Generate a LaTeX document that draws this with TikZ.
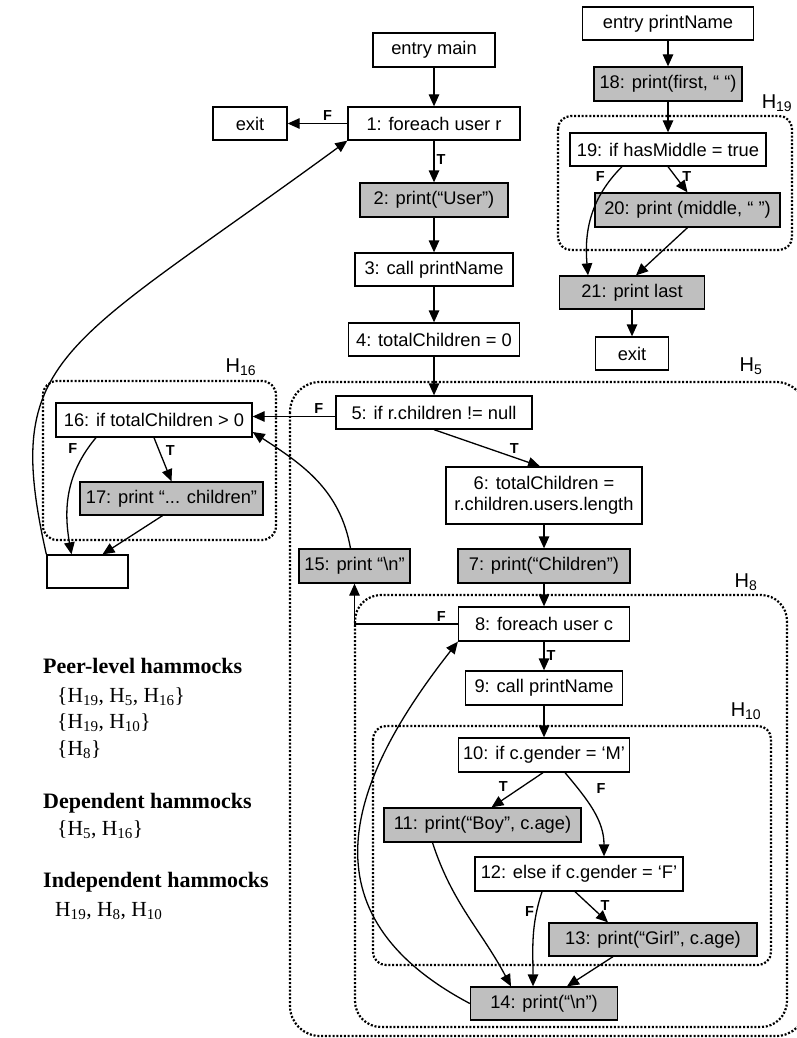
\documentclass[tikz,border=0pt]{standalone}
\usepackage{fontspec}
\setmainfont{Liberation Serif}
\setsansfont{Liberation Sans}
\usetikzlibrary{arrows.meta}

\begin{document}
\begin{tikzpicture}[x=1pt,y=1pt,>={Triangle[length=12pt,width=10.5pt]},
    every node/.style={font=\sffamily\fontsize{18.3}{20.5}\selectfont},
    stmt/.style={draw,line width=1.3pt,minimum height=33,inner sep=0pt,fill=white},
    shaded/.style={stmt,fill=black!25},
    flow/.style={->,line width=1.3pt},
    lbl/.style={font=\sffamily\bfseries\fontsize{14.5}{16}\selectfont,inner sep=2pt},
    hammock/.style={line width=2.2pt,dash pattern=on 2pt off 1.8pt},
    hlabel/.style={font=\sffamily\fontsize{20}{22}\selectfont,inner sep=0pt},
    legend/.style={font=\rmfamily\fontsize{21.5}{24}\selectfont,anchor=base west,inner sep=0pt},
    legendhead/.style={legend,font=\rmfamily\bfseries\fontsize{22}{24}\selectfont}]

    \useasboundingbox (0,0) rectangle (796,-1038);

    % hammocks
    \draw[hammock,rounded corners=13] (558,-116) rectangle (792,-250);
    \draw[hammock,rounded corners=14] (43,-381) rectangle (276,-540);
    \draw[hammock,rounded corners=30] (290,-382) rectangle (806,-1036);
    \draw[hammock,rounded corners=26] (355,-595) rectangle (787,-1027);
    \draw[hammock,rounded corners=13] (373,-726) rectangle (771,-965);

    \node[hlabel] (LH19) at (777,-103) {H\textsubscript{19}};
    \node[hlabel] (LH16) at (241,-367) {H\textsubscript{16}};
    \node[hlabel] (LH5) at (751,-366) {H\textsubscript{5}};
    \node[hlabel] (LH8) at (746,-582) {H\textsubscript{8}};
    \node[hlabel] (LH10) at (746,-711) {H\textsubscript{10}};

    % main
    \node[stmt,minimum width=122,minimum height=34] (ENTRY) at (434,-50) {entry main};
    \node[stmt,minimum width=172] (N1) at (434,-123.5) {1: foreach user r};
    \node[stmt,minimum width=74] (EXITM) at (250,-123.5) {exit};
    \node[shaded,minimum width=148,minimum height=34] (N2) at (434,-200) {2: print(“User”)};
    \node[stmt,minimum width=158] (N3) at (434,-269.5) {3: call printName};
    \node[stmt,minimum width=171] (N4) at (434,-339.5) {4: totalChildren = 0};
    \node[stmt,minimum width=196] (N5) at (434,-412.5) {5: if r.children != null};
    \node[stmt,minimum width=196,minimum height=57,align=center] (N6) at (544,-495.5) {6: totalChildren =\\r.children.users.length};
    \node[shaded,minimum width=172,minimum height=34] (N7) at (544,-566) {7: print(“Children”)};
    \node[shaded,minimum width=111,minimum height=34] (N15) at (354.5,-566) {15: print “\textbackslash n”};
    \node[stmt,minimum width=171,minimum height=34] (N8) at (544,-624) {8: foreach user c};
    \node[stmt,minimum width=157,minimum height=34] (N9) at (544,-688) {9: call printName};
    \node[stmt,minimum width=171,minimum height=34] (N10) at (544,-755) {10: if c.gender = ‘M’};
    \node[shaded,minimum width=197,minimum height=34] (N11) at (482.5,-825) {11: print(“Boy”, c.age)};
    \node[stmt,minimum width=208,minimum height=34] (N12) at (579,-874) {12: else if c.gender = ‘F’};
    \node[shaded,minimum width=208] (N13) at (653,-939.5) {13: print(“Girl”, c.age)};
    \node[shaded,minimum width=147] (N14) at (544,-1003.5) {14: print(“\textbackslash n”)};

    \node[stmt,minimum width=196,minimum height=34] (N16) at (154,-420) {16: if totalChildren > 0};
    \node[shaded,minimum width=183] (N17) at (171.5,-498.5) {17: print “... children”};
    \node[stmt,minimum width=81] (JOIN) at (87.5,-571.5) {};

    % printName
    \node[stmt,minimum width=171] (ENTRYPN) at (668,-23.5) {entry printName};
    \node[shaded,minimum width=148,minimum height=34] (N18) at (668,-84) {18: print(first, “ “)};
    \node[stmt,minimum width=196] (N19) at (668,-149.5) {19: if hasMiddle = true};
    \node[shaded,minimum width=185,minimum height=34] (N20) at (687.5,-210) {20: print (middle, “ ”)};
    \node[shaded,minimum width=145] (N21) at (632,-292.5) {21: print last};
    \node[stmt,minimum width=73] (EXITPN) at (632,-353.5) {exit};

    \foreach \a/\b in {ENTRY/N1,N2/N3,N3/N4,N4/N5,N6/N7,N7/N8,N9/N10,ENTRYPN/N18,N18/N19,N21/EXITPN}
      \draw[flow] (\a) -- (\b);

    \draw[flow] (N1) -- node[lbl,above,pos=.33]{F} (EXITM);
    \draw[flow] (N1) -- node[lbl,right,pos=.45]{T} (N2);
    \coordinate (FN5) at ([yshift=-4pt]N5.west);
    \draw[flow] (FN5) -- node[lbl,above,pos=.2]{F} (FN5 -| N16.east);
    \draw[flow] (N5.south) -- node[lbl,above right,pos=.7,inner sep=1pt]{T} ([xshift=-4pt]N6.north);
    \draw[flow] (N8.west) -| node[lbl,above,pos=.08]{F} (N15.south);
    \draw[flow] (N8) -- node[lbl,right]{T} (N9);
    \draw[flow] ([xshift=-1pt]N10.south) -- node[lbl,left=12pt,pos=.4]{T} ([xshift=9pt]N11.north);
    \draw[flow] ([xshift=21pt]N10.south) to[out=-50,in=90] node[lbl,right=16pt,pos=.2]{F} ([xshift=25pt]N12.north);
    \draw[flow] ([xshift=-50pt]N11.south) to[out=-72,in=118] ([xshift=-33pt]N14.north);
    \draw[flow] ([xshift=-37pt]N12.south) to[out=-108,in=90] node[lbl,left,pos=.2]{F} ([xshift=-11pt]N14.north);
    \draw[flow] ([xshift=-4pt]N12.south) -- node[lbl,right=8pt,pos=.45]{T} ([xshift=-45pt]N13.north);
    \draw[flow] ([xshift=-40pt]N13.south) -- ([xshift=23pt]N14.north);
    \draw[flow] (N14.west) .. controls +(-170,90) and +(-110,-140) .. (N8.south west);
    \draw[flow] ([xshift=-4pt]N15.north) to[out=100,in=-33] ([yshift=-12pt]N16.east);

    \draw[flow] ([xshift=-58pt]N16.south) to[out=-130,in=100] node[lbl,left=8pt,pos=.1]{F} ([xshift=-16pt]JOIN.north);
    \draw[flow] (N16.south) -- node[lbl,right=4pt,pos=.3]{T} (N17.north);
    \draw[flow] ([xshift=-9pt]N17.south) -- ([xshift=15pt]JOIN.north);
    \draw[flow] (JOIN.north west) .. controls +(-45,200) and +(-287,-210) .. (N1.south west);

    \draw[flow] (N19.south) -- node[lbl,right=4pt,pos=.4]{T} (N20.north);
    \draw[flow] ([xshift=-46pt]N19.south) to[out=-135,in=95] node[lbl,left=6pt,pos=.1]{F} ([xshift=-44pt]N21.north);
    \draw[flow] (N20.south) -- ([xshift=4pt]N21.north);

    % legend
    \node[legendhead] (PEER) at (43,-673) {Peer-level hammocks};
    \node[legend] (PEER1) at (57,-702) {\{H\textsubscript{19}, H\textsubscript{5}, H\textsubscript{16}\}};
    \node[legend] (PEER2) at (57,-728) {\{H\textsubscript{19}, H\textsubscript{10}\}};
    \node[legend] (PEER3) at (57,-755) {\{H\textsubscript{8}\}};
    \node[legendhead] (DEP) at (43,-808) {Dependent hammocks};
    \node[legend] (DEP1) at (57,-835) {\{H\textsubscript{5}, H\textsubscript{16}\}};
    \node[legendhead] (IND) at (43,-887) {Independent hammocks};
    \node[legend] (IND1) at (55,-916) {H\textsubscript{19}, H\textsubscript{8}, H\textsubscript{10}};

\end{tikzpicture}
\end{document}
